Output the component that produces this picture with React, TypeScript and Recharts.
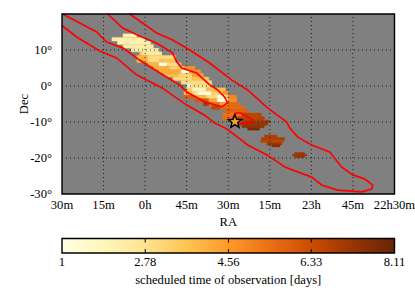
import React from "react";
import {
  ComposedChart,
  XAxis,
  YAxis,
  CartesianGrid,
  ReferenceArea,
  ReferenceLine,
  Scatter,
} from "recharts";

const FONT = "'Liberation Serif', serif";

const raTicks = [30, 15, 0, -15, -30, -45, -60, -75, -90];
const raLabels = ["30m", "15m", "0h", "45m", "30m", "15m", "23h", "45m", "22h30m"];
const decTicks = [-30, -20, -10, 0, 10];
const colorTicks = [1, 2.78, 4.56, 6.33, 8.11];

const ramp: [number, string][] = [
  [1, "#ffffe5"],
  [1.89, "#fff7bc"],
  [2.78, "#fee391"],
  [3.67, "#fec44f"],
  [4.56, "#fe9929"],
  [5.44, "#ec7014"],
  [6.33, "#cc4c02"],
  [7.22, "#993404"],
  [8.11, "#662506"],
];

// [dec, RA start (min from 0h), RA end, scheduled days, dec height]
const cells: [number, number, number, number, number?][] = [
  [14, 8, 3, 2.2],
  [13, 12, 0, 2.3],
  [12, 10, -2, 2.1],
  [11, 8, -3, 2.4],
  [10, 5, -5, 2.3],
  [9, 2, 1, 3.5],
  [9, 1, -6, 2.5],
  [8, 3, -1, 4.0],
  [8, -1, -11, 3.0],
  [7, 3, -1, 4.1],
  [7, -1, -5, 3.0],
  [7, -5, -11, 3.7],
  [6, -1, -5, 4.0],
  [6, -5, -8, 1],
  [6, -8, -12, 3.0],
  [6, -12, -13, 4.0],
  [5, -3, -9, 4.1],
  [5, -9, -14, 3.3],
  [5, -14, -18, 4.8],
  [4, -5, -13, 4.2],
  [4, -13, -16, 1.5],
  [4, -16, -20, 4.7],
  [3, -7, -12, 3.9],
  [3, -12, -17, 3.2],
  [3, -17, -21, 4.4],
  [2, -10, -17, 3.1],
  [2, -17, -23, 3.7],
  [1, -13, -24, 3.0],
  [0, -15, -17, 1.4],
  [0, -17, -24, 2.8],
  [-1, -15, -17, 3.4],
  [-1, -17, -22, 2.0],
  [-1, -22, -29, 3.8],
  [-2, -14, -17, 3.9],
  [-2, -17, -19, 2.8],
  [-2, -19, -24, 1],
  [-2, -24, -28, 3.4],
  [-2, -28, -30, 4.6],
  [-3, -14, -18, 5.8],
  [-3, -18, -22, 4.0],
  [-3, -22, -26, 3.0],
  [-3, -26, -29, 1],
  [-3, -29, -30, 3.6],
  [-3, -30, -33, 5],
  [-4, -18, -23, 6],
  [-4, -23, -26, 4.2],
  [-4, -26, -30, 1.2],
  [-4, -30, -33, 4.8],
  [-5, -21, -23, 7],
  [-5, -23, -27, 5.4],
  [-5, -27, -30, 4.4],
  [-5, -30, -34, 5.6],
  [-6, -24, -27, 6.5],
  [-6, -27, -36, 5.6],
  [-7, -29, -37, 5.8],
  [-8, -28, -35, 5.4],
  [-8, -35, -42, 6.6],
  [-9, -28, -33.4, 5.5],
  [-9, -33.4, -43, 6.7],
  [-9.85, -35, -45, 7, 0.7],
  [-10.55, -33.4, -44.2, 7.2, 0.7],
  [-11.25, -35, -43, 7.4, 0.7],
  [-11.95, -37, -41.3, 7.7, 0.7],
  [-13.95, -43, -47.5, 6.8, 0.7],
  [-14.65, -42, -50.4, 6.9, 0.7],
  [-15.35, -41.7, -50, 6.6, 0.7],
  [-16.05, -43.9, -49.3, 7.2, 0.7],
  [-16.65, -45.7, -48.6, 7.5, 0.6],
  [-18.7, -54, -57.5, 7.1, 0.5],
  [-19.2, -53.2, -58.3, 7.3, 0.5],
  [-19.7, -54, -57.5, 7.1, 0.5],
];

const outerContour = [
  [30, 16.8], [24.7, 13.6], [16.4, 9.7], [10.3, 7.8], [3.1, 3.1], [-6.3, -0.6],
  [-15, -5.3], [-21.5, -8.1], [-25.1, -10.3], [-29.4, -11.9], [-33.4, -14.2],
  [-37, -16.4], [-44.2, -19.2], [-50.4, -22.5], [-60.1, -25.3], [-63.7, -27.5],
  [-69.5, -28.9], [-78.2, -29.4], [-81.8, -28.6], [-82.1, -27.5], [-79.2, -25.8],
  [-74.9, -24.7], [-70.9, -22.5], [-66.6, -18.3], [-60.1, -16.4], [-55.1, -14.2],
  [-52.2, -11.7], [-51.1, -10], [-44.2, -6.1], [-37, -1.1], [-31.2, 1.7],
  [-23.3, 6.4], [-16.1, 10], [-9.9, 12.8], [-4.2, 14.7], [0.9, 17.5], [5.6, 20],
].map(([x, y]) => ({ x, y }));

const innerContour = [
  [29.8, 20], [23.6, 17.5], [17.5, 15], [13.9, 12.2], [8.1, 10.6], [2, 7.2],
  [-6.3, 3.1], [-12.5, 0.3], [-15, -1.7], [-21.5, -4.4], [-27.6, -5.8],
  [-29.8, -4.7], [-28.7, -3.1], [-26.2, -1.1], [-23.3, 0.3], [-18.6, 3.6],
  [-13.2, 5], [-11.4, 6.7], [-9.9, 9.2], [-4.2, 11.9], [2, 13.9], [8.1, 16.1],
  [13.5, 20],
].map(([x, y]) => ({ x, y }));

const smallContour = [
  [-31.6, -8.9], [-32.7, -7.5], [-34.5, -7.5], [-38.8, -9.4], [-38.4, -10.3],
  [-33.4, -10.3], [-31.6, -8.9],
].map(([x, y]) => ({ x, y }));

const starPoint = [{ x: -32.4, y: -9.9 }];

function hexToRgb(h: string) {
  return [1, 3, 5].map((i) => parseInt(h.slice(i, i + 2), 16));
}

function colorFor(v: number) {
  for (let i = 0; i < ramp.length - 1; i++) {
    const [a, ca] = ramp[i];
    const [b, cb] = ramp[i + 1];
    if (v <= b) {
      const t = Math.max(0, (v - a) / (b - a));
      const A = hexToRgb(ca);
      const B = hexToRgb(cb);
      return `rgb(${A.map((c, k) => Math.round(c + (B[k] - c) * t)).join(",")})`;
    }
  }
  return ramp[ramp.length - 1][1];
}

function Star(props: any) {
  const { cx, cy } = props;
  const pts: string[] = [];
  for (let i = 0; i < 10; i++) {
    const r = i % 2 === 0 ? 7 : 3;
    const a = (-90 + i * 36) * (Math.PI / 180);
    pts.push(`${cx + r * Math.cos(a)},${cy + r * Math.sin(a)}`);
  }
  return <polygon points={pts.join(" ")} fill="#f5a623" stroke="#000" strokeWidth={1.4} />;
}

const noDot = () => <g />;
const redLine = { stroke: "#ff0000", strokeWidth: 1.7 };
const tickStyle = { fontFamily: FONT, fontSize: 12.6, fill: "#000" };
const labelStyle = { fontFamily: FONT, fontSize: 12.6, fill: "#000" };
const top = 1200;

export default function App() {
  return (
    <div style={{ position: "absolute", left: 0, top: 0, width: 415, height: 291 }}>
      <div style={{ position: "absolute", left: 0, top: 0 }}>
        <ComposedChart
          width={415}
          height={232}
          data={[]}
          margin={{ top: 14, right: 20.5, bottom: 0, left: 12 }}
        >
          <CartesianGrid fill="#808080" stroke="none" />
          <XAxis
            dataKey="x"
            type="number"
            domain={[-90, 30]}
            reversed
            ticks={raTicks}
            interval={0}
            height={38}
            axisLine={false}
            tickLine={false}
            tick={tickStyle}
            tickMargin={0}
            tickFormatter={(v: number) => raLabels[raTicks.indexOf(v)]}
            label={{ value: "RA", position: "insideBottom", offset: 6, style: labelStyle }}
          />
          <YAxis
            dataKey="y"
            type="number"
            domain={[-30, 20]}
            ticks={decTicks}
            interval={0}
            width={50}
            axisLine={false}
            tickLine={false}
            tick={tickStyle}
            tickMargin={4}
            tickFormatter={(v: number) => `${v}°`}
            label={{
              value: "Dec",
              angle: -90,
              position: "insideLeft",
              offset: 12,
              style: { ...labelStyle, textAnchor: "middle" },
            }}
          />
          {cells.map(([dec, a, b, v, h = 1], i) => (
            <ReferenceArea
              key={i}
              x1={a}
              x2={b}
              y1={dec - h / 2}
              y2={dec + h / 2}
              fill={colorFor(v)}
              fillOpacity={1}
              stroke={colorFor(v)}
              strokeWidth={0.3}
            />
          ))}
          {raTicks.slice(1, -1).map((t) => (
            <ReferenceLine key={t} x={t} stroke="#000" strokeOpacity={0.8} strokeWidth={1} strokeDasharray="1 3" />
          ))}
          {decTicks.slice(1).map((t) => (
            <ReferenceLine key={t} y={t} stroke="#000" strokeOpacity={0.8} strokeWidth={1} strokeDasharray="1 3" />
          ))}
          <Scatter zIndex={top} data={outerContour} line={redLine} shape={noDot} isAnimationActive={false} />
          <Scatter zIndex={top} data={innerContour} line={redLine} shape={noDot} isAnimationActive={false} />
          <Scatter zIndex={top} data={smallContour} line={redLine} shape={noDot} isAnimationActive={false} />
          <Scatter zIndex={top} data={starPoint} shape={Star} isAnimationActive={false} />
          <ReferenceArea
            zIndex={top + 100}
            x1={-90}
            x2={30}
            y1={-30}
            y2={20}
            fill="none"
            fillOpacity={0}
            stroke="#000"
            strokeWidth={1.4}
          />
        </ComposedChart>
      </div>
      <div style={{ position: "absolute", left: 0, top: 230 }}>
        <ComposedChart
          width={415}
          height={61}
          data={ramp.map(([v], i) => ({ v, u: i % 2 }))}
          margin={{ top: 8.5, right: 20.5, bottom: 0, left: 62 }}
        >
          <defs>
            <linearGradient id="cbar" x1="0" x2="1" y1="0" y2="0">
              {ramp.map(([v, c]) => (
                <stop key={v} offset={(v - 1) / 7.11} stopColor={c} />
              ))}
            </linearGradient>
          </defs>
          <XAxis
            dataKey="v"
            type="number"
            domain={[1, 8.11]}
            ticks={colorTicks}
            interval={0}
            height={38}
            axisLine={false}
            tickLine={false}
            tick={tickStyle}
            tickMargin={-2}
            label={{
              value: "scheduled time of observation [days]",
              position: "insideBottom",
              offset: 7,
              style: labelStyle,
            }}
          />
          <YAxis dataKey="u" type="number" domain={[0, 1]} width={0} hide />
          <Scatter dataKey="u" shape={noDot} isAnimationActive={false} />
          <ReferenceArea
            x1={1}
            x2={8.11}
            y1={0}
            y2={1}
            fill="url(#cbar)"
            fillOpacity={1}
            stroke="#000"
            strokeWidth={1.4}
          />
          {colorTicks.slice(1, -1).map((t) => (
            <ReferenceLine key={t} x={t} stroke="#000" strokeWidth={1} strokeDasharray="4 6.5 4" />
          ))}
        </ComposedChart>
      </div>
    </div>
  );
}
